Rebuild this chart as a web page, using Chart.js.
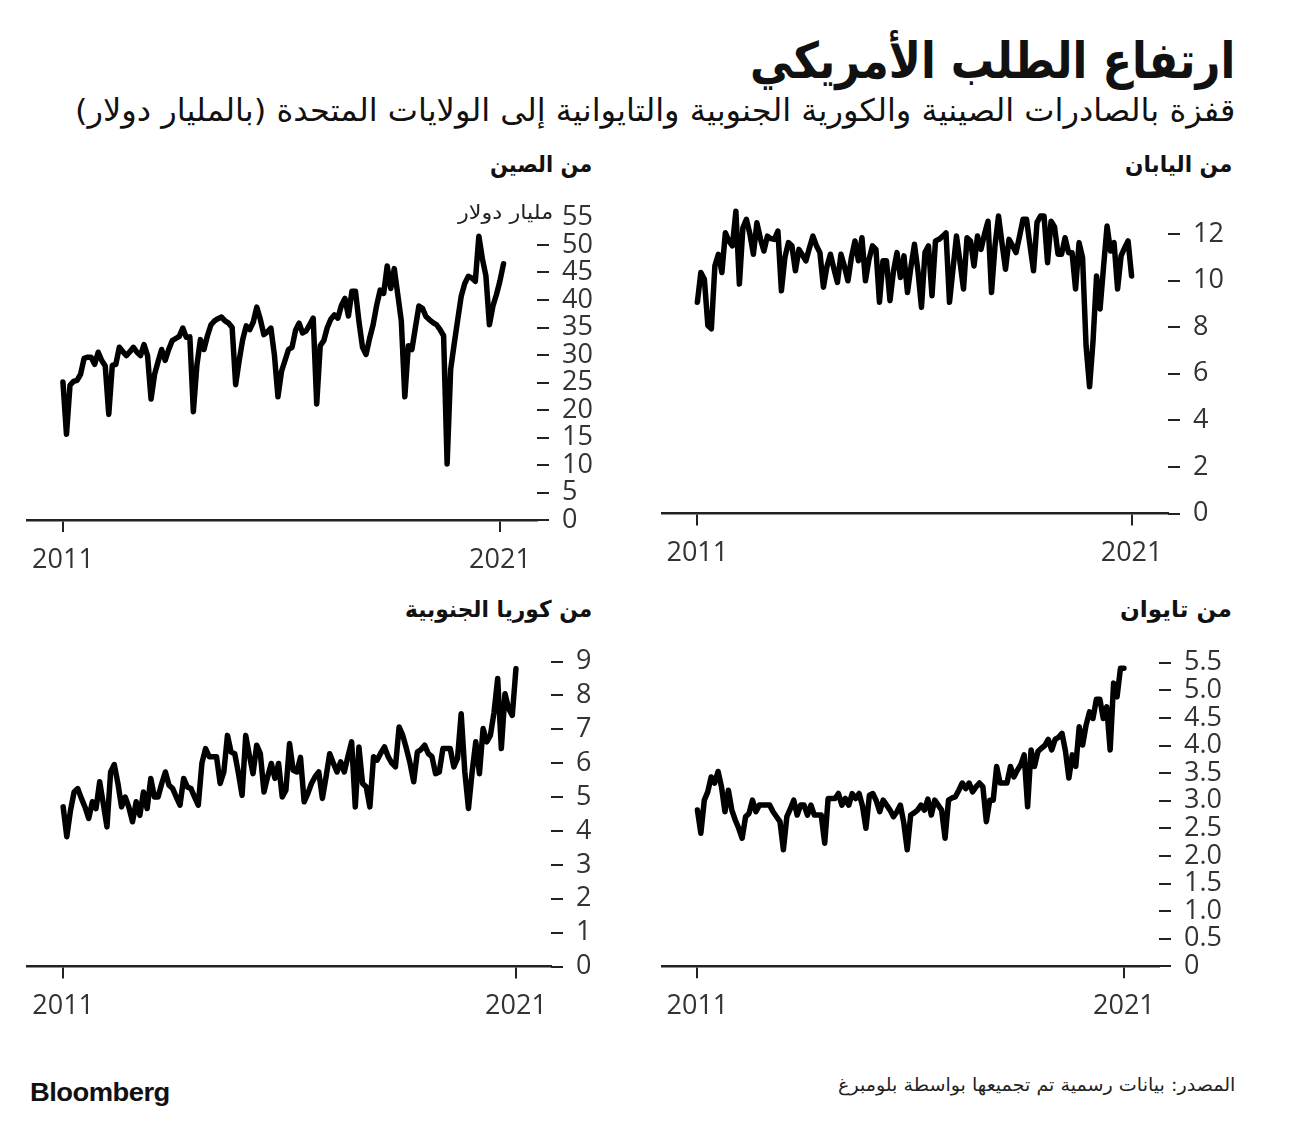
<!DOCTYPE html>
<html>
<head>
<meta charset="utf-8">
<script src="https://cdn.jsdelivr.net/npm/chart.js@4"></script>
<style>
  body { margin: 0; background: #fff; width: 1297px; height: 1121px; position: relative; overflow: hidden; }
  .ar { position: absolute; direction: rtl; white-space: nowrap; font-family: "DejaVu Sans", sans-serif; color: #111; line-height: 1; transform-origin: right center; }
  .title { right: 62px; top: 36px; font-size: 50px; font-weight: bold; }
  .sub { right: 62px; top: 95px; font-size: 31px; }
  .ptitle { font-size: 23px; font-weight: bold; }
  .unit { font-size: 20px; color: #222; }
  .src { right: 62px; top: 1076px; font-size: 18px; color: #222; }
  .brand { position: absolute; left: 30px; top: 1079px; font-family: "Liberation Sans", Arial, sans-serif; font-weight: bold; font-size: 26px; letter-spacing: -0.5px; color: #111; line-height: 1; transform-origin: left center; white-space: nowrap; }
  canvas { position: absolute; }
</style>
</head>
<body>
<div class="ar title" data-w="485">ارتفاع الطلب الأمريكي</div>
<div class="ar sub" data-w="1160">قفزة بالصادرات الصينية والكورية الجنوبية والتايوانية إلى الولايات المتحدة (بالمليار دولار)</div>

<div class="ar ptitle" style="right:705px; top:153px" data-w="102">من الصين</div>
<div class="ar ptitle" style="right:65px; top:153px" data-w="107">من اليابان</div>
<div class="ar ptitle" style="right:705px; top:598px" data-w="187">من كوريا الجنوبية</div>
<div class="ar ptitle" style="right:65px; top:598px" data-w="112">من تايوان</div>

<canvas id="china" width="640" height="423" style="left:0; top:177px"></canvas>
<canvas id="japan" width="640" height="440" style="left:640px; top:160px"></canvas>
<canvas id="korea" width="640" height="430" style="left:0; top:621px"></canvas>
<canvas id="taiwan" width="640" height="430" style="left:640px; top:622px"></canvas>

<div class="ar unit" style="right:744px; top:202px" data-w="95">مليار دولار</div>

<div class="brand" data-w="140">Bloomberg</div>
<div class="ar src" data-w="397">المصدر: بيانات رسمية تم تجميعها بواسطة بلومبرغ</div>

<script>
// monthly values, Jan 2011 .. May 2021 (billion USD)
const chinaValues = [
  25.1, 15.6, 24.5, 25.2, 25.4, 26.5, 29.4, 29.6, 29.6, 28.3, 30.5, 29.0, 28.0,
  19.2, 28.1, 28.3, 31.4, 30.6, 29.9, 30.6, 31.4, 30.5, 29.9, 31.9, 29.9,
  22.0, 26.5, 28.8, 31.0, 29.0, 31.0, 32.6, 33.0, 33.4, 34.9, 33.2, 33.3,
  19.7, 28.1, 32.8, 31.0, 33.5, 35.5, 36.2, 36.6, 36.9, 36.2, 35.8, 35.0,
  24.6, 29.0, 32.8, 35.3, 34.6, 36.0, 38.7, 36.5, 33.7, 34.2, 34.9, 30.0,
  22.4, 27.0, 29.0, 31.0, 31.4, 34.5, 35.8, 34.0, 34.4, 35.5, 36.7,
  21.1, 31.7, 32.6, 35.0, 36.5, 37.3, 36.7, 39.0, 40.3, 37.1, 41.6, 41.6, 36.0,
  31.4, 30.1, 33.0, 35.5, 39.0, 41.8, 41.2, 46.2, 42.1, 45.7, 41.0, 36.2,
  22.4, 31.7, 31.0, 35.0, 38.9, 38.5, 37.0, 36.4, 35.9, 35.5, 34.6, 33.5,
  10.2, 27.4, 32.0, 36.4, 40.7, 43.0, 44.3, 44.0, 43.4, 51.6, 47.5, 44.4,
  35.5, 38.9, 41.0, 43.5, 46.6
];
const japanValues = [
  9.07, 10.35, 10.06, 8.07, 7.93, 10.63, 11.13, 10.35, 12.05, 11.7, 11.49, 12.98,
  9.85, 12.27, 12.63, 12.0, 11.13, 12.48, 11.8, 11.27, 11.91, 11.8, 11.77, 12.13,
  9.56, 11.0, 11.63, 11.49, 10.42, 11.34, 11.1, 10.85, 11.4, 11.91, 11.5, 11.2,
  9.71, 10.6, 11.13, 10.5, 9.92, 11.13, 10.6, 9.99, 11.0, 11.7, 10.85, 11.84,
  9.99, 10.9, 11.49, 11.34, 9.07, 10.85, 10.85, 9.14, 10.4, 11.2, 10.13, 11.06,
  9.49, 10.6, 11.56, 10.4, 8.85, 11.2, 11.49, 9.35, 11.7, 11.77, 11.9, 12.05,
  9.07, 10.5, 11.91, 10.8, 9.64, 11.84, 11.7, 10.63, 11.91, 11.34, 12.0, 12.55,
  9.49, 11.5, 12.77, 11.6, 10.49, 11.77, 11.5, 11.2, 11.9, 12.63, 12.63, 11.5,
  10.42, 12.5, 12.77, 12.77, 10.77, 12.55, 12.3, 11.13, 11.13, 11.84, 11.2, 11.2,
  9.64, 11.63, 10.99, 7.2, 5.44, 7.43, 10.2, 8.78, 10.6, 12.34, 11.27, 11.63,
  9.64, 11.06, 11.4, 11.7, 10.2
];
const koreaValues = [
  4.71, 3.83, 4.6, 5.15, 5.25, 4.96, 4.7, 4.37, 4.86, 4.66, 5.45, 4.8,
  4.12, 5.74, 5.96, 5.4, 4.71, 5.0, 4.7, 4.27, 4.86, 4.46, 5.15, 4.66,
  5.55, 5.0, 5.0, 5.4, 5.74, 5.35, 5.25, 5.0, 4.76, 5.55, 5.3, 5.25,
  5.0, 4.76, 6.0, 6.43, 6.19, 6.19, 6.19, 5.4, 5.74, 6.82, 6.33, 6.28,
  5.7, 5.05, 6.82, 6.23, 5.69, 6.53, 6.28, 5.15, 5.6, 5.99, 5.55, 5.99,
  5.0, 5.2, 6.58, 5.79, 5.74, 6.17, 4.86, 5.1, 5.4, 5.6, 5.74, 4.96,
  5.6, 6.28, 6.0, 5.74, 6.04, 5.74, 6.2, 6.63, 4.71, 6.48, 5.4, 5.3,
  4.71, 6.19, 6.09, 6.3, 6.48, 6.19, 6.0, 5.89, 7.07, 6.82, 6.43, 6.0,
  5.45, 6.33, 6.4, 6.53, 6.28, 6.19, 5.69, 5.74, 6.43, 6.43, 6.43, 5.89,
  6.14, 7.46, 5.74, 4.66, 5.74, 6.63, 5.69, 7.02, 6.63, 6.82, 7.5, 8.5,
  6.43, 8.05, 7.61, 7.41, 8.79
];
const taiwanValues = [
  2.83, 2.41, 3.01, 3.16, 3.43, 3.32, 3.53, 3.25, 2.80, 3.19, 2.83, 2.65,
  2.5, 2.32, 2.71, 2.77, 3.01, 2.80, 2.92, 2.92, 2.92, 2.92, 2.8, 2.71,
  2.62, 2.11, 2.71, 2.85, 3.01, 2.74, 2.92, 2.92, 2.74, 2.92, 2.74, 2.74,
  2.74, 2.23, 3.04, 3.04, 3.04, 3.13, 2.92, 3.04, 2.92, 3.13, 3.04, 3.13,
  2.9, 2.50, 3.10, 3.13, 3.0, 2.8, 3.01, 2.92, 2.83, 2.71, 2.8, 2.92,
  2.6, 2.11, 2.74, 2.78, 2.83, 2.92, 2.83, 3.03, 2.74, 3.01, 2.92, 2.83,
  2.32, 3.01, 3.05, 3.07, 3.19, 3.32, 3.22, 3.32, 3.16, 3.25, 3.32, 3.25,
  2.62, 3.01, 3.01, 3.62, 3.32, 3.32, 3.32, 3.62, 3.43, 3.55, 3.65, 3.83,
  2.89, 3.92, 3.62, 3.89, 3.95, 4.0, 4.11, 3.92, 4.11, 4.15, 4.22, 3.9,
  3.41, 3.83, 3.62, 4.34, 4.01, 4.37, 4.61, 4.49, 4.84, 4.84, 4.49, 4.70,
  3.92, 5.13, 4.88, 5.40, 5.40
];

const xTickIdx = [0, 124];
const xTickLabels = ['2011', '2021'];

const chinaTicks = [0, 5, 10, 15, 20, 25, 30, 35, 40, 45, 50, 55];
const chinaTickLabels = ['0', '5', '10', '15', '20', '25', '30', '35', '40', '45', '50', '55'];
const japanTicks = [0, 2, 4, 6, 8, 10, 12];
const japanTickLabels = ['0', '2', '4', '6', '8', '10', '12'];
const koreaTicks = [0, 1, 2, 3, 4, 5, 6, 7, 8, 9];
const koreaTickLabels = ['0', '1', '2', '3', '4', '5', '6', '7', '8', '9'];
const taiwanTicks = [0, 0.5, 1, 1.5, 2, 2.5, 3, 3.5, 4, 4.5, 5, 5.5];
const taiwanTickLabels = ['0', '0.5', '1.0', '1.5', '2.0', '2.5', '3.0', '3.5', '4.0', '4.5', '5.0', '5.5'];

const tickFont = { family: 'Open Sans', size: 27 };
const tickColor = '#333';
const axisColor = '#222';

function makeChart(id, values, o) {
    return new Chart(document.getElementById(id), {
        type: 'line',
        data: {
            datasets: [{
                data: values.map((v, i) => ({ x: i, y: v })),
                borderColor: '#000',
                borderWidth: 5.5,
                pointRadius: 0,
                tension: 0,
                borderJoinStyle: 'round',
                borderCapStyle: 'round',
                clip: false
            }]
        },
        options: {
            responsive: false,
            devicePixelRatio: 1,
            animation: false,
            layout: { padding: { left: o.padL, top: o.padT, right: 0, bottom: 0 } },
            plugins: { legend: { display: false }, tooltip: { enabled: false } },
            scales: {
                x: {
                    type: 'linear',
                    min: o.xMin, max: o.xMax,
                    afterBuildTicks: ax => { ax.ticks = xTickIdx.map(v => ({ value: v })); },
                    afterFit: ax => { ax.height = o.xH; },
                    ticks: {
                        callback: (v, i) => xTickLabels[i],
                        font: tickFont, color: tickColor, padding: 12,
                        maxRotation: 0, autoSkip: false
                    },
                    grid: { drawOnChartArea: false, drawTicks: true, tickLength: 12, color: axisColor, lineWidth: 2 },
                    border: { display: true, color: axisColor, width: 2.5 }
                },
                y: {
                    position: 'right',
                    min: o.yMin, max: o.yMax,
                    afterBuildTicks: ax => { ax.ticks = o.yTicks.map(v => ({ value: v })); },
                    afterFit: ax => { ax.width = o.yW; },
                    ticks: {
                        callback: (v, i) => o.yLabels[i],
                        font: tickFont, color: tickColor, padding: 13,
                        autoSkip: false
                    },
                    grid: {
                        drawOnChartArea: false, drawTicks: true, tickLength: 12, lineWidth: 2,
                        color: ctx => (o.hideTick !== undefined && ctx.tick && ctx.tick.value === o.hideTick) ? 'rgba(0,0,0,0)' : axisColor
                    },
                    border: { display: false }
                }
            }
        }
    });
}

makeChart('china', chinaValues, {
    padL: 27, padT: 40.5, xH: 80, yW: 103,
    xMin: -10.2, xMax: 134.5, yMin: 0, yMax: 55,
    yTicks: chinaTicks, yLabels: chinaTickLabels, hideTick: 55
});
makeChart('japan', japanValues, {
    padL: 22, padT: 40, xH: 86.5, yW: 112,
    xMin: -10.1, xMax: 134.4, yMin: 0, yMax: 13.46,
    yTicks: japanTicks, yLabels: japanTickLabels
});
makeChart('korea', koreaValues, {
    padL: 27, padT: 40.5, xH: 84.5, yW: 89,
    xMin: -9.9, xMax: 133.6, yMin: 0, yMax: 9,
    yTicks: koreaTicks, yLabels: koreaTickLabels
});
makeChart('taiwan', taiwanValues, {
    padL: 22, padT: 40.7, xH: 85.7, yW: 121,
    xMin: -10.3, xMax: 134.2, yMin: 0, yMax: 5.5,
    yTicks: taiwanTicks, yLabels: taiwanTickLabels
});

// squeeze the texts to the widths they take in the original
document.querySelectorAll('[data-w]').forEach(el => {
    const w = +el.dataset.w;
    el.style.transform = 'scaleX(' + (w / el.scrollWidth) + ')';
});
</script>
</body>
</html>
